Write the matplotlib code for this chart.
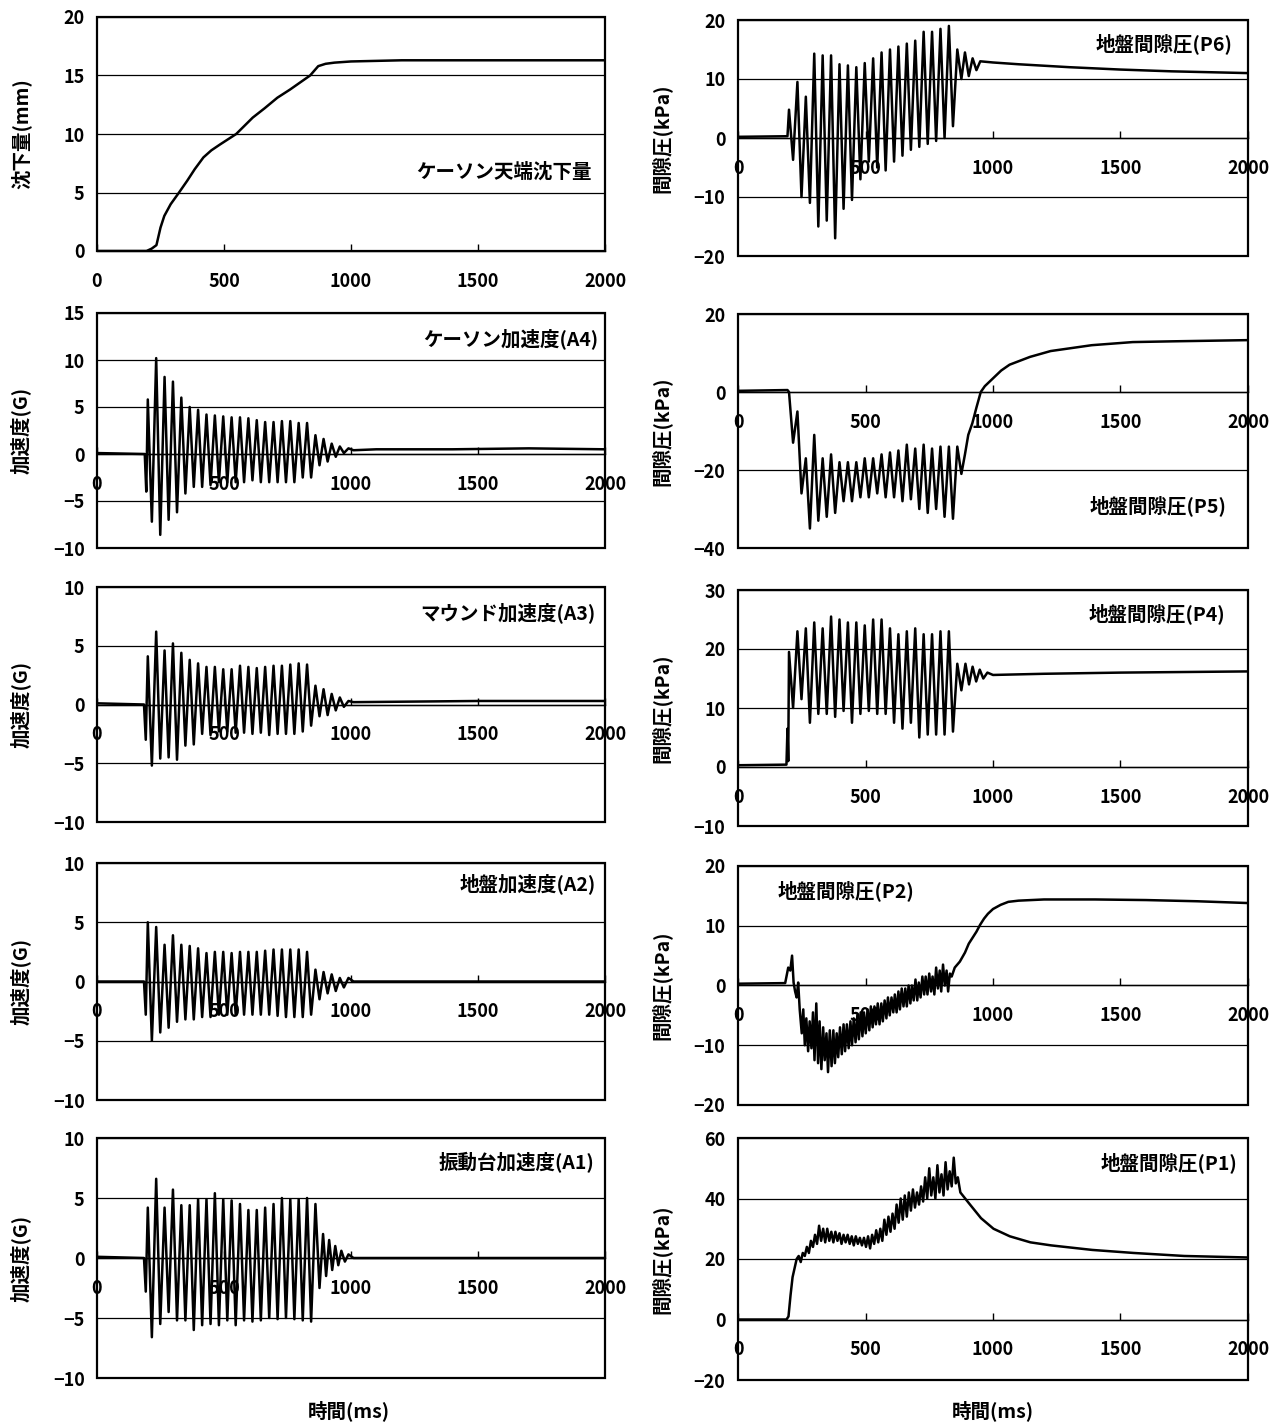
import matplotlib
matplotlib.use('Agg')
import matplotlib.pyplot as plt
from matplotlib.patches import Rectangle

plt.rcParams['font.family'] = ['Noto Sans CJK JP', 'DejaVu Sans']

# shared times (ms) of the shaking peaks / troughs
t_peak = [200, 233, 266, 299, 332, 365, 398, 431, 464, 497, 530, 563, 596, 629, 662, 695, 728, 761, 794, 827, 860]
t_trough = [216, 249, 282, 315, 348, 381, 414, 447, 480, 513, 546, 579, 612, 645, 678, 711, 744, 777, 810, 843, 876]

# caisson settlement (mm)
settle_t = [0, 195, 215, 234, 250, 265, 290, 323, 355, 385, 419, 450, 484, 548, 613, 660, 710, 760, 806, 839, 871, 900, 935, 1000, 1200, 2000]
settle_v = [0, 0, 0.2, 0.5, 2.0, 3.0, 4.0, 5.0, 6.0, 7.0, 8.0, 8.6, 9.1, 10.0, 11.4, 12.2, 13.1, 13.8, 14.5, 15.0, 15.8, 16.0, 16.1, 16.2, 16.3, 16.3]

# A4 caisson acceleration (G)
a4_head_t = [0, 188, 194]
a4_head_v = [0.1, 0.0, -4.0]
a4_hi = [5.8, 10.2, 8.2, 7.7, 6.0, 5.0, 4.7, 4.2, 4.1, 4.0, 3.9, 3.9, 3.8, 3.6, 3.4, 3.4, 3.5, 3.5, 3.3, 3.3, 2.0]
a4_lo = [-7.2, -8.6, -7.0, -6.2, -4.2, -3.5, -3.5, -3.3, -3.0, -3.0, -3.0, -3.0, -2.8, -3.0, -3.0, -3.0, -3.0, -3.0, -2.5, -2.5, -1.2]
a4_tail_t = [892, 908, 924, 940, 956, 972, 990, 1010, 1100, 1400, 1700, 2000]
a4_tail_v = [1.6, -0.8, 1.1, -0.3, 0.8, 0.1, 0.6, 0.4, 0.5, 0.5, 0.6, 0.5]

# A3 mound acceleration (G)
a3_head_t = [0, 185, 192]
a3_head_v = [0.1, 0.0, -3.0]
a3_hi = [4.1, 6.2, 4.6, 5.2, 4.4, 3.8, 3.5, 3.2, 3.2, 3.0, 3.0, 3.3, 3.2, 3.1, 3.2, 3.3, 3.3, 3.4, 3.5, 3.4, 1.6]
a3_lo = [-5.2, -4.6, -4.5, -4.7, -3.5, -3.4, -2.5, -2.6, -2.3, -2.3, -2.4, -2.4, -2.5, -2.4, -2.6, -2.5, -2.5, -2.5, -2.3, -1.8, -1.0]
a3_tail_t = [892, 908, 924, 940, 956, 972, 990, 1010, 1500, 2000]
a3_tail_v = [1.3, -0.9, 0.9, -0.5, 0.6, -0.2, 0.3, 0.2, 0.3, 0.3]

# A2 ground acceleration (G)
a2_head_t = [0, 185, 192]
a2_head_v = [0.0, 0.0, -2.8]
a2_hi = [5.0, 4.6, 3.1, 3.9, 3.1, 3.0, 2.8, 2.4, 2.5, 2.5, 2.4, 2.5, 2.5, 2.5, 2.6, 2.7, 2.7, 2.7, 2.7, 2.5, 1.0]
a2_lo = [-5.0, -4.3, -3.9, -3.4, -3.2, -3.2, -3.0, -3.0, -2.8, -2.8, -2.8, -2.8, -2.8, -2.8, -2.8, -2.9, -3.0, -3.0, -3.0, -2.8, -1.5]
a2_tail_t = [892, 908, 924, 940, 956, 972, 990, 1010, 2000]
a2_tail_v = [0.8, -1.0, 0.6, -0.8, 0.3, -0.5, 0.3, 0.0, 0.0]

# A1 shaking table acceleration (G)
a1_head_t = [0, 185, 192]
a1_head_v = [0.1, 0.0, -2.8]
a1_hi = [4.2, 6.6, 4.2, 5.7, 4.4, 4.4, 4.9, 4.9, 5.4, 4.9, 4.8, 4.5, 4.0, 4.0, 4.2, 4.5, 5.0, 4.9, 4.9, 5.0, 4.5]
a1_lo = [-6.6, -5.5, -4.5, -5.2, -5.2, -6.0, -5.6, -5.5, -5.6, -5.2, -5.6, -5.2, -5.3, -5.2, -5.0, -5.1, -5.0, -5.1, -5.2, -5.3, -2.5]
a1_tail_t = [890, 902, 914, 926, 938, 950, 962, 976, 990, 1010, 2000]
a1_tail_v = [2.0, -1.5, 1.5, -1.0, 1.0, -0.6, 0.6, -0.3, 0.3, 0.0, 0.0]

# P6 pore pressure (kPa)
p6_head_t = [0, 194]
p6_head_v = [0.2, 0.3]
p6_hi = [4.8, 9.5, 7.0, 14.3, 14.0, 14.0, 12.5, 12.3, 12.0, 12.7, 13.5, 14.5, 15.0, 15.5, 16.0, 16.5, 18.0, 18.0, 18.5, 19.0, 15.0]
p6_lo = [-3.7, -10.0, -11.0, -15.0, -14.0, -17.0, -12.0, -10.5, -7.0, -4.0, -5.0, -5.5, -4.0, -3.0, -2.0, -1.5, -1.0, -0.5, 0.0, 2.0, 10.0]
p6_tail_t = [890, 905, 920, 935, 950, 1000, 1100, 1300, 1500, 1700, 2000]
p6_tail_v = [14.5, 10.5, 13.5, 11.5, 13.0, 12.8, 12.5, 12.0, 11.6, 11.3, 11.0]

# P5 pore pressure (kPa)
p5_head_t = [0, 194]
p5_head_v = [0.3, 0.5]
p5_hi = [0.0, -5, -17, -11, -17, -16, -18, -18, -18, -17, -17, -16, -15.5, -15, -13.5, -14.5, -13.5, -14.5, -14, -14, -14]
p5_lo = [-13, -26, -35, -33, -32, -31, -28, -28, -27, -27, -26, -27, -27, -28, -27.5, -30, -31, -30, -32, -32.5, -21]
p5_tail_t = [890, 903, 919, 935, 952, 968, 1000, 1032, 1065, 1145, 1226, 1387, 1548, 1710, 2000]
p5_tail_v = [-16, -11, -8, -4, 0, 1.5, 3.5, 5.5, 7, 9, 10.5, 12, 12.8, 13, 13.3]

# P4 pore pressure (kPa)
p4_head_t = [0, 190, 194, 197]
p4_head_v = [0.3, 0.4, 6.5, 1.0]
p4_hi = [19.5, 23, 23.5, 24.5, 23.5, 25.5, 25, 24.5, 24.5, 24, 25, 25, 23.5, 22.5, 23, 23.5, 22.5, 22.5, 23, 23, 17.5]
p4_lo = [10, 11.5, 7.5, 9, 9, 8.5, 9.5, 7.5, 9, 9.5, 9, 9, 7.5, 6.5, 7.5, 5, 5.5, 5.5, 5.5, 6, 13]
p4_tail_t = [892, 906, 920, 934, 948, 962, 978, 1000, 1200, 1500, 2000]
p4_tail_v = [17.5, 14.0, 17.0, 14.5, 16.5, 15.0, 16.0, 15.6, 15.8, 16.0, 16.2]

# P2 pore pressure (kPa)
p2_t = [0, 185, 197, 205, 212, 218, 224, 230, 236, 242, 250, 256, 262, 268, 275, 281, 288, 294,
        300, 307, 314, 320, 327, 334, 340, 347, 353, 360, 367, 374, 380, 387, 393, 400, 407, 414,
        420, 427, 434, 441, 447, 454, 461, 468, 474, 481, 488, 494, 501, 508, 515, 521, 528, 535,
        541, 548, 555, 562, 568, 575, 582, 588, 595, 602, 609, 615, 622, 629, 635, 642, 649, 656,
        662, 669, 676, 682, 689, 696, 703, 709, 716, 723, 730, 736, 743, 750, 757, 763, 770, 777,
        784, 791, 797, 804, 811, 818, 824, 831, 838, 850, 870, 890, 905, 920, 935, 950, 965, 980,
        1000, 1030, 1060, 1100, 1200, 1400, 1600, 1800, 2000]
p2_v = [0.3, 0.4, 3.0, 2.5, 5.0, 0.5, -1.0, -2.0, 0.5, -4.0, -8.0, -4.0, -10.0, -5.5, -11.0, -6.0, -10.5, -4.5,
        -12.5, -3.0, -13.0, -6.0, -14.0, -7.0, -12.5, -8.0, -14.5, -7.5, -13.5, -7.5, -13.0, -8.0, -12.0, -7.0, -11.5, -6.5,
        -11.0, -6.5, -10.5, -6.0, -10.0, -5.5, -9.5, -5.0, -9.0, -4.5, -8.5, -4.5, -8.0, -4.0, -7.5, -3.5, -7.0, -3.5,
        -6.5, -3.0, -6.5, -3.0, -6.0, -2.5, -5.5, -2.0, -5.0, -2.0, -4.5, -1.5, -4.5, -1.0, -4.0, -0.5, -3.5, -0.5,
        -3.5, 0.0, -3.0, 0.0, -2.5, 1.0, -2.5, 0.5, -2.0, 1.5, -1.5, 1.5, -1.5, 2.0, -1.0, 1.5, -1.5, 3.0,
        -0.5, 2.5, -1.0, 3.5, 0.0, 2.5, -1.0, 2.0, 1.5, 3.0, 4.0, 5.5, 7.0, 8.0, 9.0, 10.2, 11.2, 12.0,
        12.8, 13.5, 14.0, 14.2, 14.4, 14.4, 14.3, 14.1, 13.8]

# P1 pore pressure (kPa)
p1_t = [0, 190, 198, 206, 214, 222, 230, 238, 246, 254, 262, 270, 278, 286, 294, 302, 310, 318, 326,
        334, 342, 350, 358, 366, 374, 382, 390, 398, 406, 414, 422, 430, 438, 446, 454, 462, 470,
        478, 486, 494, 502, 510, 518, 526, 534, 542, 550, 558, 566, 574, 582, 590, 598, 606, 614,
        622, 630, 638, 646, 654, 662, 670, 678, 686, 694, 702, 710, 718, 726, 734, 742, 750, 758,
        766, 774, 782, 790, 798, 806, 814, 822, 830, 838, 846, 854, 862, 872, 905, 953, 1002, 1066,
        1147, 1228, 1389, 1551, 1750, 2000]
p1_v = [0, 0, 1, 8, 14, 17, 20, 21, 19, 22, 21, 24, 22, 26, 24, 28, 25, 31, 26,
        30, 25.5, 30, 26, 29, 25.5, 29, 26, 28.5, 25, 28, 25.5, 28, 25, 27.5, 24.5, 27.5, 25,
        27, 24.5, 27, 24, 27.5, 23.5, 28, 25, 29.5, 25.5, 30, 26, 33, 28, 34, 29, 35, 30,
        38, 32, 40, 33, 41, 34, 42, 36, 43, 37, 42, 38, 44, 39, 47, 40, 50, 41,
        47, 40, 51, 42, 48, 41, 52, 43, 49, 44, 53.5, 45, 47, 42, 38.5, 33.5, 30, 27.5,
        25.5, 24.5, 23, 22, 21, 20.5]

time_label = '時間(ms)'


def shake(head_t, head_v, hi, lo, tail_t, tail_v):
    t = list(head_t)
    v = list(head_v)
    for tp, vh, tt, vl in zip(t_peak, hi, t_trough, lo):
        t += [tp, tt]
        v += [vh, vl]
    return t + list(tail_t), v + list(tail_v)


panels = [
    # rect px (left, top, right, bottom), series, ylim, ystep, ylabel, text, text pos, ha
    ((97, 17, 605, 251), (settle_t, settle_v), (0, 20), 5, '沈下量(mm)', 'ケーソン天端沈下量', (0.974, 0.338), 'right'),
    ((738, 20, 1248, 256), shake(p6_head_t, p6_head_v, p6_hi, p6_lo, p6_tail_t, p6_tail_v), (-20, 20), 10, '間隙圧(kPa)', '地盤間隙圧(P6)', (0.969, 0.898), 'right'),
    ((97, 313, 605, 548), shake(a4_head_t, a4_head_v, a4_hi, a4_lo, a4_tail_t, a4_tail_v), (-10, 15), 5, '加速度(G)', 'ケーソン加速度(A4)', (0.986, 0.889), 'right'),
    ((738, 314, 1248, 548), shake(p5_head_t, p5_head_v, p5_hi, p5_lo, p5_tail_t, p5_tail_v), (-40, 20), 20, '間隙圧(kPa)', '地盤間隙圧(P5)', (0.957, 0.179), 'right'),
    ((97, 587, 605, 822), shake(a3_head_t, a3_head_v, a3_hi, a3_lo, a3_tail_t, a3_tail_v), (-10, 10), 5, '加速度(G)', 'マウンド加速度(A3)', (0.982, 0.889), 'right'),
    ((738, 590, 1248, 826), shake(p4_head_t, p4_head_v, p4_hi, p4_lo, p4_tail_t, p4_tail_v), (-10, 30), 10, '間隙圧(kPa)', '地盤間隙圧(P4)', (0.955, 0.898), 'right'),
    ((97, 863, 605, 1100), shake(a2_head_t, a2_head_v, a2_hi, a2_lo, a2_tail_t, a2_tail_v), (-10, 10), 5, '加速度(G)', '地盤加速度(A2)', (0.982, 0.911), 'right'),
    ((738, 866, 1248, 1105), (p2_t, p2_v), (-20, 20), 10, '間隙圧(kPa)', '地盤間隙圧(P2)', (0.078, 0.895), 'left'),
    ((97, 1138, 605, 1378), shake(a1_head_t, a1_head_v, a1_hi, a1_lo, a1_tail_t, a1_tail_v), (-10, 10), 5, '加速度(G)', '振動台加速度(A1)', (0.978, 0.896), 'right'),
    ((738, 1138, 1248, 1380), (p1_t, p1_v), (-20, 60), 20, '間隙圧(kPa)', '地盤間隙圧(P1)', (0.980, 0.900), 'right'),
]

W, H = 1285, 1424
fig = plt.figure(figsize=(W / 100, H / 100), dpi=100)

for (l, t, r, b), (xs, ys), (y0, y1), ystep, ylab, txt, (tx, ty), ha in panels:
    ax = fig.add_axes([l / W, 1 - b / H, (r - l) / W, (b - t) / H])
    ax.plot(xs, ys, color='black', lw=1.8)
    ax.set_xlim(0, 2000)
    ax.set_ylim(y0, y1)
    ax.set_xticks([0, 500, 1000, 1500, 2000])
    ax.set_yticks(list(range(y0, y1 + 1, ystep)))
    ax.yaxis.grid(True, color='black', lw=0.9)
    ax.set_axisbelow(True)
    # excel style: category axis crosses at zero
    ax.spines['bottom'].set_position(('data', 0))
    ax.spines['bottom'].set_linewidth(1.0)
    for s in ['left', 'right', 'top']:
        ax.spines[s].set_visible(False)
    ax.add_patch(Rectangle((0, 0), 1, 1, transform=ax.transAxes, fill=False,
                           lw=1.6, edgecolor='black', clip_on=False, zorder=5))
    ax.tick_params(axis='x', direction='in', length=5, width=1, pad=15, labelsize=13)
    ax.tick_params(axis='y', length=0, pad=9, labelsize=13)
    for lab in ax.get_xticklabels() + ax.get_yticklabels():
        lab.set_fontweight('bold')
    ax.set_ylabel(ylab, fontsize=14, fontweight='bold')
    ax.yaxis.set_label_coords(-0.13, 0.5)
    ax.text(tx, ty, txt, transform=ax.transAxes, ha=ha, va='center', fontsize=14, fontweight='bold')

fig.text(349 / W, 1 - 1411 / H, time_label, ha='center', va='center', fontsize=14, fontweight='bold')
fig.text(993 / W, 1 - 1411 / H, time_label, ha='center', va='center', fontsize=14, fontweight='bold')

fig.savefig('out.png', dpi=100, facecolor='white')
